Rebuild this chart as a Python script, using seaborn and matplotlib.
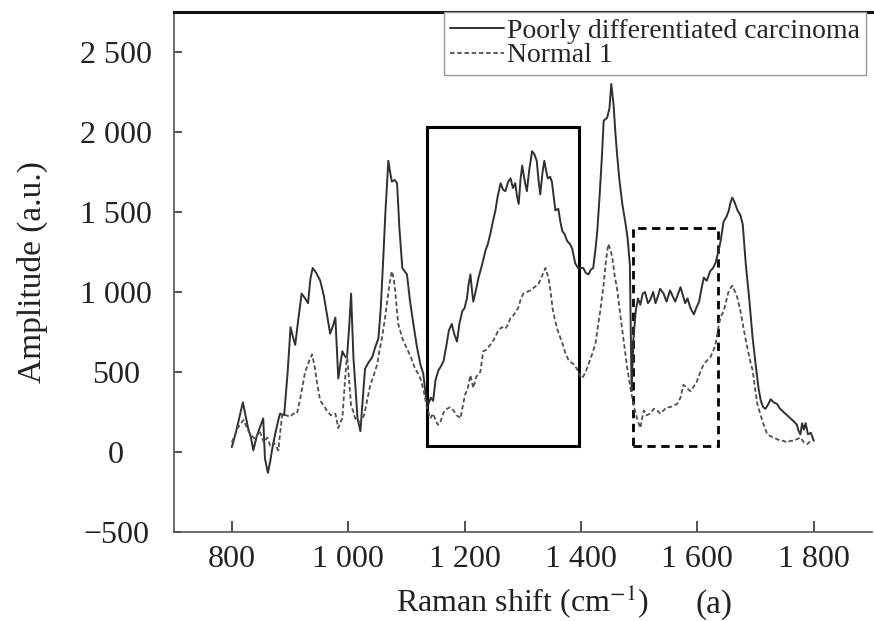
import numpy as np
import pandas as pd
import matplotlib
matplotlib.use('Agg')
import matplotlib.pyplot as plt
import matplotlib.ticker as mticker
from matplotlib.patches import Rectangle
import seaborn as sns

# спектр низкодифференцированной карциномы
shift_carc = [800, 807, 812, 819, 824, 828, 833, 837, 843, 849, 854, 857, 862, 866, 869, 875, 880, 883,
              890, 896, 901, 905, 909, 914, 920, 926, 931, 935, 939, 945, 952, 958, 964, 969, 974, 978,
              983, 987, 990, 994, 998, 1002, 1005, 1009, 1013, 1016, 1021, 1025, 1029, 1035, 1041, 1046,
              1052, 1056, 1060, 1064, 1069, 1072, 1075, 1080, 1084, 1088, 1093, 1097, 1101, 1106, 1112,
              1118, 1124, 1129, 1134, 1138, 1142, 1146, 1150, 1155, 1160, 1164, 1168, 1173, 1178, 1182,
              1187, 1191, 1196, 1200, 1204, 1207, 1210, 1213, 1215, 1220, 1224, 1230, 1236, 1240, 1244,
              1248, 1253, 1257, 1262, 1266, 1270, 1275, 1279, 1283, 1287, 1290, 1293, 1296, 1299, 1303,
              1307, 1311, 1316, 1320, 1324, 1327, 1330, 1334, 1337, 1340, 1343, 1347, 1350, 1353, 1356,
              1361, 1365, 1368, 1372, 1376, 1381, 1385, 1390, 1395, 1399, 1404, 1408, 1413, 1417, 1421,
              1425, 1428, 1432, 1436, 1439, 1445, 1449, 1452, 1456, 1459, 1462, 1466, 1471, 1476, 1480,
              1484, 1487, 1490, 1494, 1498, 1502, 1506, 1510, 1515, 1519, 1524, 1528, 1531, 1536, 1542,
              1547, 1553, 1558, 1562, 1567, 1571, 1575, 1579, 1583, 1588, 1594, 1598, 1603, 1607, 1611,
              1616, 1622, 1627, 1631, 1636, 1640, 1645, 1650, 1654, 1657, 1660, 1664, 1669, 1674, 1678,
              1683, 1689, 1695, 1700, 1705, 1709, 1713, 1717, 1722, 1726, 1731, 1737, 1742, 1748, 1754,
              1760, 1766, 1771, 1774, 1777, 1780, 1783, 1786, 1790, 1795, 1800]
amp_carc = [30, 120, 200, 310, 220, 150, 90, 10, 100, 160, 210, -40, -130, -60, 10, 120, 200, 240,
            230, 500, 780, 720, 670, 820, 990, 960, 930, 1080, 1150, 1120, 1070, 980, 850, 740, 790, 840,
            460, 560, 630, 600, 590, 800, 990, 590, 380, 210, 130, 330, 520, 560, 590, 650,
            710, 900, 1190, 1500, 1820, 1750, 1690, 1700, 1680, 1400, 1150, 1130, 1110, 950, 800,
            660, 550, 490, 330, 300, 340, 320, 450, 510, 540, 570, 650, 760, 800, 740,
            690, 800, 880, 900, 960, 1050, 1110, 1000, 940, 1020, 1090, 1170, 1260, 1300, 1360,
            1430, 1510, 1600, 1680, 1640, 1630, 1690, 1710, 1650, 1680, 1600, 1550, 1700, 1790, 1700,
            1630, 1760, 1880, 1860, 1820, 1700, 1610, 1750, 1820, 1760, 1710, 1720, 1690, 1600, 1510,
            1520, 1430, 1380, 1360, 1320, 1300, 1270, 1180, 1150, 1150, 1150, 1120, 1110, 1140, 1150,
            1270, 1380, 1600, 1850, 2070, 2090, 2150, 2300, 2170, 2000, 1860, 1700, 1550, 1440, 1340,
            1170, 380, 700, 880, 960, 920, 990, 1000, 930, 950, 1000, 930, 960, 1020, 990,
            940, 1010, 970, 940, 990, 1030, 980, 930, 960, 900, 860, 900, 940, 1020, 1090,
            1070, 1130, 1150, 1180, 1250, 1320, 1440, 1470, 1510, 1560, 1590, 1560, 1510, 1480, 1420,
            1180, 960, 710, 550, 400, 320, 280, 270, 300, 330, 310, 300, 270, 250, 230,
            210, 190, 170, 130, 110, 180, 140, 180, 110, 120, 70]

# спектр нормальной ткани
shift_norm = [800, 810, 820, 830, 840, 848, 855, 861, 866, 872, 880, 884, 887, 893, 900, 906, 912, 918,
              926, 932, 938, 943, 947, 952, 958, 963, 970, 978, 983, 987, 990, 994, 998, 1002, 1005, 1009,
              1012, 1017, 1021, 1025, 1028, 1033, 1038, 1044, 1050, 1054, 1058, 1063, 1067, 1071, 1075,
              1078, 1081, 1086, 1090, 1093, 1098, 1103, 1108, 1115, 1120, 1124, 1130, 1135, 1141, 1146,
              1150, 1154, 1158, 1162, 1166, 1170, 1175, 1181, 1186, 1190, 1193, 1197, 1201, 1205, 1210,
              1215, 1220, 1227, 1232, 1238, 1244, 1250, 1258, 1264, 1270, 1275, 1279, 1283, 1287, 1292,
              1297, 1301, 1307, 1313, 1320, 1327, 1333, 1339, 1344, 1348, 1351, 1355, 1359, 1364, 1368,
              1373, 1379, 1383, 1387, 1393, 1398, 1402, 1408, 1413, 1419, 1425, 1428, 1433, 1439, 1443,
              1447, 1451, 1454, 1458, 1462, 1466, 1471, 1476, 1480, 1485, 1490, 1494, 1498, 1502, 1505,
              1508, 1513, 1519, 1525, 1531, 1536, 1542, 1547, 1553, 1559, 1565, 1571, 1576, 1582, 1588,
              1594, 1599, 1605, 1611, 1616, 1622, 1627, 1631, 1637, 1641, 1645, 1650, 1654, 1660, 1665,
              1669, 1674, 1678, 1682, 1686, 1690, 1695, 1699, 1703, 1708, 1712, 1716, 1720, 1725, 1731,
              1737, 1743, 1748, 1754, 1760, 1765, 1771, 1777, 1783, 1789, 1795, 1800]
amp_norm = [60, 150, 200, 120, 80, 130, 60, 90, 40, 60, 10, 150, 240, 230, 220, 240, 240, 340,
            500, 560, 610, 520, 420, 320, 290, 260, 230, 240, 150, 190, 210, 420, 610, 430, 290, 250,
            210, 190, 190, 210, 240, 330, 420, 480, 550, 640, 710, 830, 940, 1050, 1130,
            1090, 1000, 800, 750, 710, 670, 630, 590, 520, 490, 460, 380, 280, 210, 240,
            200, 170, 180, 230, 260, 270, 280, 260, 230, 220, 210, 290, 360, 390, 480,
            400, 470, 500, 630, 640, 670, 700, 760, 780, 770, 800, 840, 850, 870, 900,
            960, 990, 1000, 1010, 1030, 1050, 1100, 1150, 1090, 1000, 900, 830, 770, 720, 680,
            620, 570, 560, 550, 520, 480, 460, 500, 550, 610, 680, 760, 880, 1050, 1200,
            1300, 1260, 1210, 1100, 1020, 900, 760, 620, 510, 400, 300, 240, 190, 150, 210,
            260, 230, 240, 270, 260, 240, 260, 280, 280, 290, 300, 340, 420, 400, 380,
            410, 440, 500, 550, 570, 590, 630, 670, 800, 850, 880, 950, 1010, 1040, 1000,
            960, 880, 800, 720, 650, 580, 510, 400, 300, 240, 190, 150, 110, 100, 90,
            80, 70, 70, 60, 70, 70, 80, 90, 60, 50, 70, 80]

x_ticks = [800, 1000, 1200, 1400, 1600, 1800]
y_ticks = [-500, 0, 500, 1000, 1500, 2000, 2500]

carc = pd.DataFrame({'shift': shift_carc, 'amp': amp_carc})
norm = pd.DataFrame({'shift': shift_norm, 'amp': amp_norm})

sns.set_style('ticks')
plt.rcParams['font.family'] = ['Liberation Serif', 'DejaVu Serif']
plt.rcParams['mathtext.fontset'] = 'stix'
plt.rcParams['axes.unicode_minus'] = True

fig = plt.figure(figsize=(8.74, 6.21), dpi=100)
ax = fig.add_axes([0.1986, 0.1433, 0.7991, 0.8374])

sns.lineplot(data=carc, x='shift', y='amp', ax=ax, color='#303030', lw=1.4,
             label='Poorly differentiated carcinoma')
sns.lineplot(data=norm, x='shift', y='amp', ax=ax, color='#505050', lw=1.3,
             linestyle=(0, (2.5, 1.5)), label='Normal 1')

# рамки выделенных областей
ax.add_patch(Rectangle((1136, 40), 261, 1990, fill=False, ec='black', lw=2.2))
ax.add_patch(Rectangle((1490, 40), 145, 1360, fill=False, ec='black', lw=2.0, ls=(0, (3, 2))))

ax.set_xlim(700, 1900)
ax.set_ylim(-500, 2750)
ax.set_xticks(x_ticks)
ax.set_yticks(y_ticks)

fmt = mticker.FuncFormatter(lambda v, p: '{:,}'.format(int(v)).replace(',', ' ').replace('-', '\u2212'))
ax.xaxis.set_major_formatter(fmt)
ax.yaxis.set_major_formatter(fmt)
ax.tick_params(axis='both', direction='in', labelsize=23, colors='#333333', labelcolor='#222222')
ax.tick_params(axis='x', length=8, width=1.2, pad=9.5)
ax.tick_params(axis='y', length=6, width=1.2, pad=41.5)
for lab in ax.get_yticklabels():
    lab.set_horizontalalignment('center')

for s in ['left', 'bottom']:
    ax.spines[s].set_color('#555555')
    ax.spines[s].set_linewidth(1.2)
ax.spines['top'].set_color('#111111')
ax.spines['top'].set_linewidth(2.2)
ax.spines['right'].set_visible(False)

ax.set_xlabel('Raman shift (cm$^{-1}$)', fontsize=23, color='#222222', labelpad=6)
ax.set_ylabel('Amplitude (a.u.)', fontsize=24, color='#222222')
ax.yaxis.set_label_coords(-0.18, 0.5)
fig.text(714 / 874, 1 - 605 / 621, '(a)', fontsize=24, color='#222222', ha='center', va='center')

leg = ax.legend(loc='upper right', bbox_to_anchor=(0.991, 1.0), borderaxespad=0,
                fontsize=20, frameon=True, fancybox=False, framealpha=1,
                handlelength=1.95, handletextpad=0.08, labelspacing=-0.02, borderpad=0.22)
leg.get_frame().set_edgecolor('#999999')
leg.get_frame().set_linewidth(1.0)

fig.savefig('out.png', dpi=100)
